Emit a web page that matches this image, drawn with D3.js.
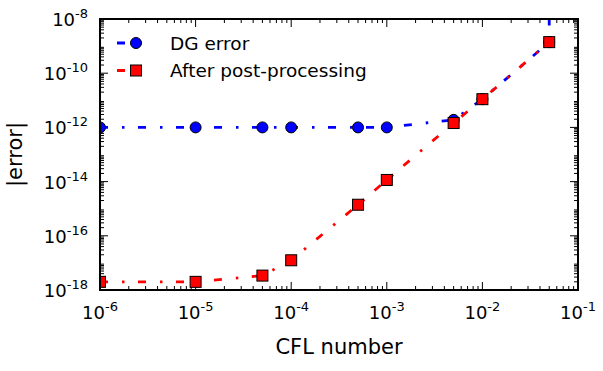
<!DOCTYPE html>
<html>
<head>
<meta charset="utf-8">
<script src="https://cdn.jsdelivr.net/npm/d3@7"></script>
<style>
  body { margin: 0; background: #fff; }
  svg { display: block; font-family: "DejaVu Sans", sans-serif; }
</style>
</head>
<body>
<svg id="chart" width="603" height="371"></svg>
<script>
const cflValues = [1e-6, 1e-5, 5e-5, 1e-4, 5e-4, 1e-3, 5e-3, 1e-2, 5e-2];
const dgError = [1e-12, 1e-12, 1e-12, 1e-12, 1e-12, 1e-12, 1.9e-12, 1.1e-11, 1.4e-9];
const postError = [2e-18, 2e-18, 3.4e-18, 1.25e-17, 1.4e-15, 1.15e-14, 1.45e-12, 1.1e-11, 1.4e-9];
// dg error blows up right after the last cfl (line leaves the plot vertically)
const dgExtra = [[5e-2, 1e-6]];
const xTickExps = [-6, -5, -4, -3, -2, -1];
const yTickExps = [-18, -16, -14, -12, -10, -8];
const seriesNames = ["DG error", "After post-processing"];

const chartSize = { width: 603, height: 371 };
const margin = { left: 100, right: 25, top: 19, bottom: 81 };
const width = chartSize.width - margin.left - margin.right;
const height = chartSize.height - margin.top - margin.bottom;
const dash = "8,14,2.5,13.5";

const svg = d3.select("#chart");
const g = svg.append("g").attr("transform", `translate(${margin.left},${margin.top})`);

const x = d3.scaleLog().domain([1e-6, 1e-1]).range([0, width]);
const y = d3.scaleLog().domain([1e-18, 1e-8]).range([height, 0]);

g.append("clipPath").attr("id", "plot-clip")
	.append("rect").attr("width", width).attr("height", height);

const minorTicks = (lo, hi) => {
	const out = [];
	for (let e = lo; e < hi; e++)
		for (let s = 2; s <= 9; s++) out.push(s * Math.pow(10, e));
	return out;
};

// ticks, inward on all four sides
const ticks = g.append("g").attr("stroke", "#000").attr("stroke-width", 1);
const xMajor = xTickExps.map(e => Math.pow(10, e));
const yMajor = yTickExps.map(e => Math.pow(10, e));
const addTicks = (vals, len, axis) => {
	vals.forEach(v => {
		if (axis === "x") {
			const px = x(v);
			ticks.append("line").attr("x1", px).attr("x2", px).attr("y1", height).attr("y2", height - len);
			ticks.append("line").attr("x1", px).attr("x2", px).attr("y1", 0).attr("y2", len);
		} else {
			const py = y(v);
			ticks.append("line").attr("x1", 0).attr("x2", len).attr("y1", py).attr("y2", py);
			ticks.append("line").attr("x1", width).attr("x2", width - len).attr("y1", py).attr("y2", py);
		}
	});
};
addTicks(xMajor, 8, "x");
addTicks(minorTicks(-6, -1), 4, "x");
addTicks(yMajor, 8, "y");
addTicks(minorTicks(-18, -8), 4, "y");

// tick labels as 10^n
const powLabel = (sel, e) => {
	sel.append("tspan").text("10");
	sel.append("tspan").attr("dy", -8).attr("font-size", 13).text(e);
};
xTickExps.forEach(e => {
	const t = g.append("text")
		.attr("x", x(Math.pow(10, e)))
		.attr("y", height + 29)
		.attr("text-anchor", "middle")
		.attr("font-size", 18);
	powLabel(t, e);
});
yTickExps.forEach(e => {
	const t = g.append("text")
		.attr("x", -12)
		.attr("y", y(Math.pow(10, e)) + 7)
		.attr("text-anchor", "end")
		.attr("font-size", 18);
	powLabel(t, e);
});

// axis labels
g.append("text")
	.attr("x", width / 2)
	.attr("y", height + 64)
	.attr("text-anchor", "middle")
	.attr("font-size", 21)
	.text("CFL number");
g.append("text")
	.attr("transform", `translate(${-78},${height / 2}) rotate(-90)`)
	.attr("text-anchor", "middle")
	.attr("font-size", 21)
	.text("|error|");

// data
const plot = g.append("g").attr("clip-path", "url(#plot-clip)");
const line = d3.line().x(d => x(d[0])).y(d => y(d[1]));
const dgPts = cflValues.map((c, i) => [c, dgError[i]]);
const postPts = cflValues.map((c, i) => [c, postError[i]]);

plot.append("path")
	.attr("d", line(dgPts.concat(dgExtra)))
	.attr("fill", "none").attr("stroke", "#0000ff")
	.attr("stroke-width", 2.8).attr("stroke-dasharray", dash);
plot.selectAll(".dg").data(dgPts).join("circle")
	.attr("class", "dg")
	.attr("cx", d => x(d[0])).attr("cy", d => y(d[1])).attr("r", 5.5)
	.attr("fill", "#0000ff").attr("stroke", "#000").attr("stroke-width", 1);

plot.append("path")
	.attr("d", line(postPts))
	.attr("fill", "none").attr("stroke", "#ff0000")
	.attr("stroke-width", 2.8).attr("stroke-dasharray", dash);
plot.selectAll(".pp").data(postPts).join("rect")
	.attr("class", "pp")
	.attr("x", d => x(d[0]) - 5.5).attr("y", d => y(d[1]) - 5.5)
	.attr("width", 11).attr("height", 11)
	.attr("fill", "#ff0000").attr("stroke", "#000").attr("stroke-width", 1);

// frame
g.append("rect")
	.attr("width", width).attr("height", height)
	.attr("fill", "none").attr("stroke", "#000").attr("stroke-width", 2);

// legend
const legend = g.append("g").attr("transform", "translate(17,24)");
const colors = ["#0000ff", "#ff0000"];
seriesNames.forEach((name, i) => {
	const row = legend.append("g").attr("transform", `translate(0,${i * 27.5})`);
	row.append("line")
		.attr("x1", 0).attr("x2", 38).attr("y1", 0).attr("y2", 0)
		.attr("stroke", colors[i]).attr("stroke-width", 2.8).attr("stroke-dasharray", dash);
	if (i === 0) {
		row.append("circle").attr("cx", 19).attr("cy", 0).attr("r", 5.5)
			.attr("fill", colors[i]).attr("stroke", "#000");
	} else {
		row.append("rect").attr("x", 13.5).attr("y", -5.5).attr("width", 11).attr("height", 11)
			.attr("fill", colors[i]).attr("stroke", "#000");
	}
	row.append("text").attr("x", 53).attr("y", 6.5).attr("font-size", 18.5).text(name);
});
</script>
</body>
</html>
